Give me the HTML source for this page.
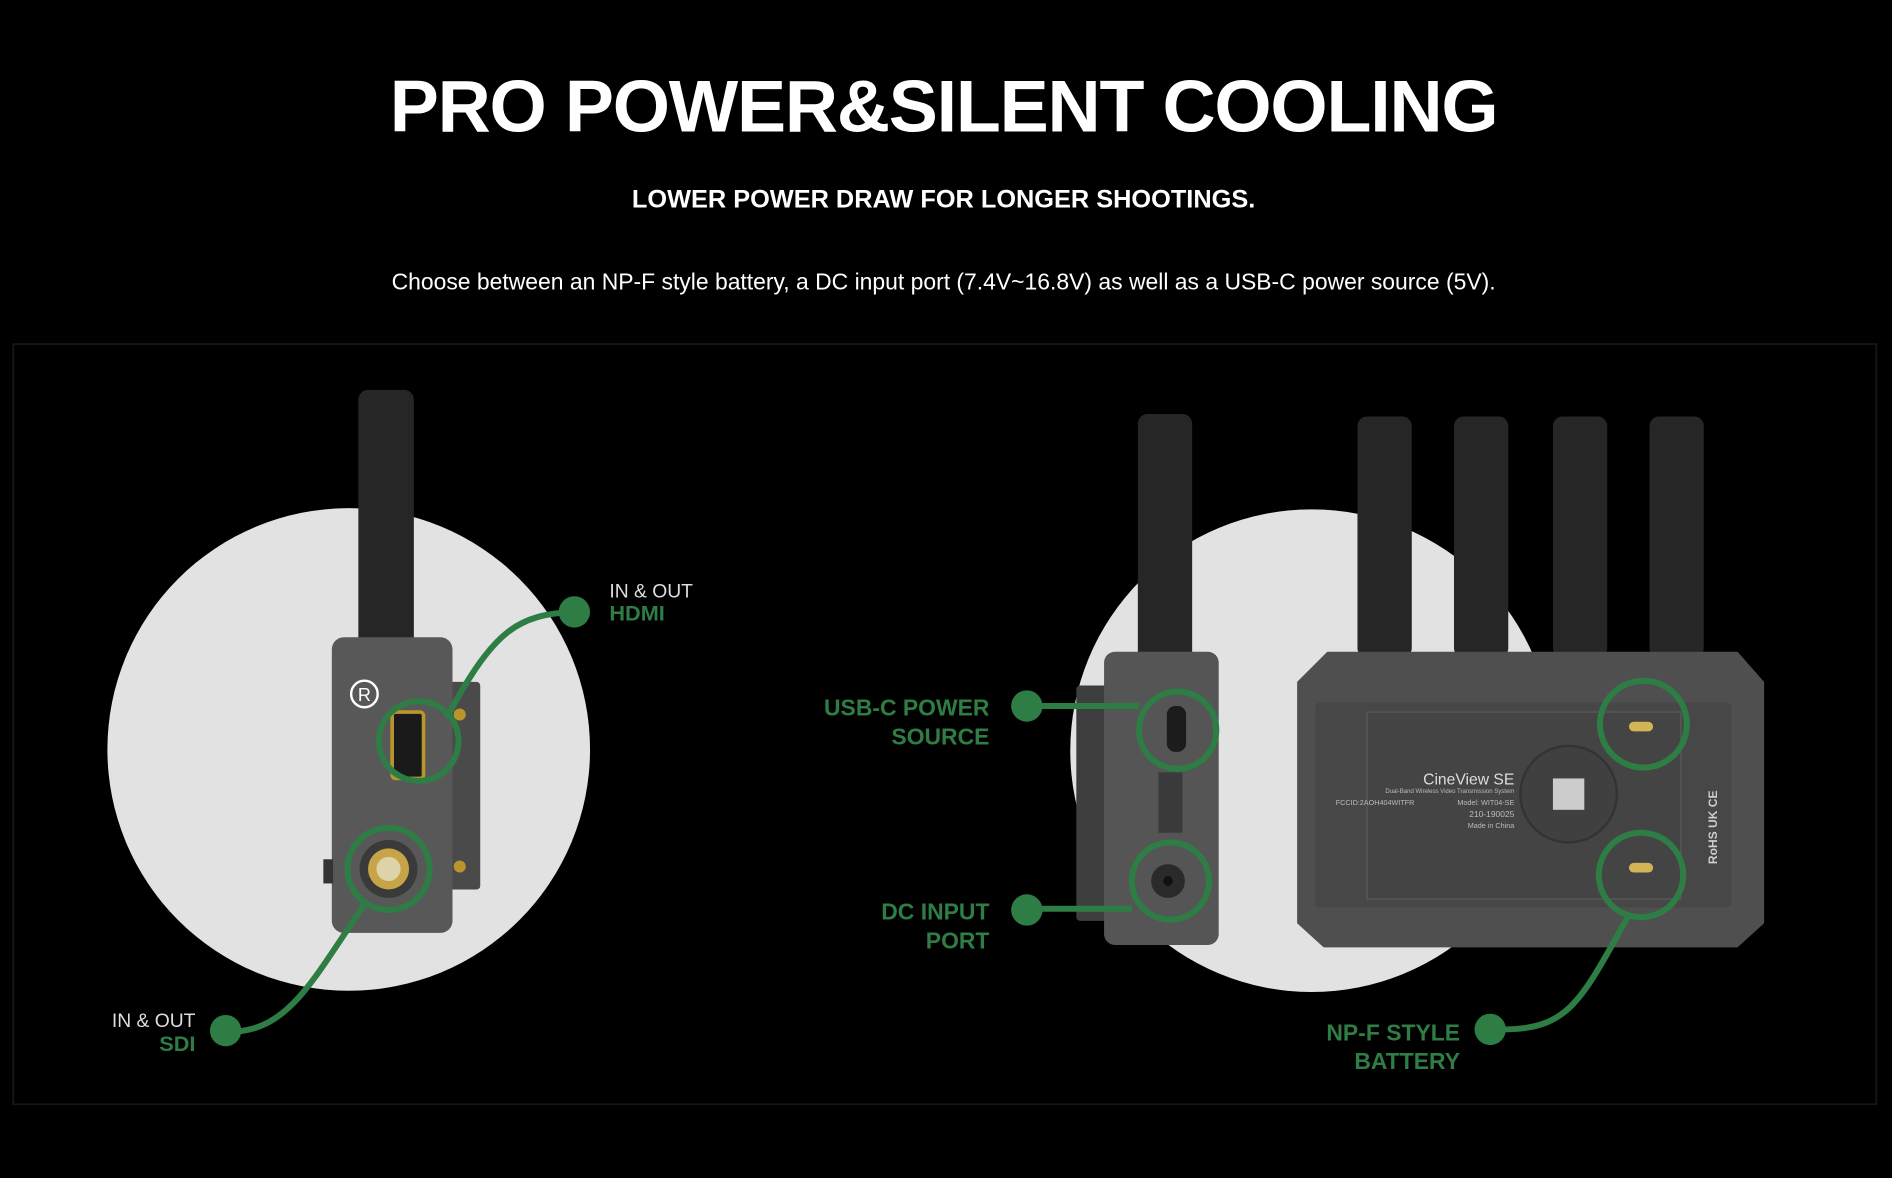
<!DOCTYPE html>
<html><head><meta charset="utf-8"><style>
html,body{margin:0;padding:0;background:#000;width:1892px;height:1178px;overflow:hidden}
svg{display:block}
text{font-family:"Liberation Sans",sans-serif}
</style></head><body>
<svg width="1892" height="1178" viewBox="0 0 1568 976" xmlns="http://www.w3.org/2000/svg">
<rect width="1568" height="976" fill="#000"/>
<text x="782" y="109" text-anchor="middle" fill="#fff" font-size="61" font-weight="bold" letter-spacing="-1">PRO POWER&amp;SILENT COOLING</text>
<text x="782" y="172" text-anchor="middle" fill="#fff" font-size="21" font-weight="bold">LOWER POWER DRAW FOR LONGER SHOOTINGS.</text>
<text x="782" y="240" text-anchor="middle" fill="#fff" font-size="19">Choose between an NP-F style battery, a DC input port (7.4V~16.8V) as well as a USB-C power source (5V).</text>
<rect x="11" y="285" width="1544" height="630" fill="none" stroke="#161616" stroke-width="1.5"/>
<circle cx="289" cy="621" r="200" fill="#e2e2e2"/>
<circle cx="1087" cy="622" r="200" fill="#e2e2e2"/>
<rect x="297" y="323" width="46" height="215" rx="8" fill="#262626"/>
<rect x="370" y="565" width="28" height="172" rx="3" fill="#4a4a4a"/>
<rect x="275" y="528" width="100" height="245" rx="10" fill="#585858"/>
<rect x="268" y="712" width="8" height="20" fill="#333"/>
<circle cx="302" cy="575" r="11" fill="none" stroke="#fff" stroke-width="2"/>
<text x="302" y="581" text-anchor="middle" fill="#fff" font-size="15">R</text>
<rect x="325" y="590" width="26" height="55" rx="3" fill="#1a1a1a" stroke="#b8962c" stroke-width="3"/>
<circle cx="322" cy="720" r="24" fill="#3a3a3a"/>
<circle cx="322" cy="720" r="17" fill="#c7a447"/>
<circle cx="322" cy="720" r="10" fill="#ddd2a8"/>
<circle cx="381" cy="592" r="5" fill="#b8962c"/>
<circle cx="381" cy="718" r="5" fill="#b8962c"/>
<g fill="none" stroke="#2e7d45" stroke-width="5">
<circle cx="347" cy="614" r="33"/>
<circle cx="322" cy="720" r="34"/>
<path d="M370 595 C410 520 430 510 474 507"/>
<path d="M303 748 C260 810 240 855 190 855"/>
</g>
<circle cx="476" cy="507" r="13" fill="#2e7d45"/>
<circle cx="187" cy="854" r="13" fill="#2e7d45"/>
<text x="505" y="495" fill="#ddd" font-size="16">IN &amp; OUT</text>
<text x="505" y="514" fill="#2e7d45" font-size="18" font-weight="bold">HDMI</text>
<text x="162" y="851" text-anchor="end" fill="#ddd" font-size="16">IN &amp; OUT</text>
<text x="162" y="871" text-anchor="end" fill="#2e7d45" font-size="18" font-weight="bold">SDI</text>
<rect x="943" y="343" width="45" height="205" rx="8" fill="#262626"/>
<rect x="892" y="568" width="30" height="195" rx="3" fill="#3e3e3e"/>
<rect x="915" y="540" width="95" height="243" rx="9" fill="#555"/>
<rect x="967" y="585" width="16" height="38" rx="7" fill="#1c1c1c"/>
<rect x="960" y="640" width="20" height="50" fill="#3a3a3a"/>
<circle cx="968" cy="730" r="14" fill="#2a2a2a"/>
<circle cx="968" cy="730" r="4" fill="#111"/>
<rect x="1125" y="345" width="45" height="200" rx="8" fill="#262626"/>
<rect x="1205" y="345" width="45" height="200" rx="8" fill="#262626"/>
<rect x="1287" y="345" width="45" height="200" rx="8" fill="#262626"/>
<rect x="1367" y="345" width="45" height="200" rx="8" fill="#262626"/>
<path d="M1100 540 H1440 L1462 565 V765 L1440 785 H1097 L1075 765 V565 Z" fill="#4f4f4f"/>
<rect x="1090" y="582" width="345" height="170" rx="4" fill="#474747"/>
<rect x="1133" y="590" width="260" height="155" fill="#444" stroke="#5a5a5a"/>
<circle cx="1300" cy="658" r="40" fill="#404040" stroke="#333" stroke-width="2"/>
<rect x="1287" y="645" width="26" height="26" fill="#ccc"/>
<text x="1255" y="650" text-anchor="end" fill="#ddd" font-size="13">CineView SE</text>
<text x="1255" y="657" text-anchor="end" fill="#bbb" font-size="5">Dual-Band Wireless Video Transmission System</text>
<text x="1107" y="667" fill="#bbb" font-size="6">FCCID:2AOH404WITFR</text>
<text x="1255" y="667" text-anchor="end" fill="#bbb" font-size="6">Model: WIT04-SE</text>
<text x="1255" y="677" text-anchor="end" fill="#bbb" font-size="7">210-190025</text>
<text x="1255" y="686" text-anchor="end" fill="#bbb" font-size="6">Made in China</text>
<rect x="1350" y="598" width="20" height="8" rx="4" fill="#d4b555"/>
<rect x="1350" y="715" width="20" height="8" rx="4" fill="#d4b555"/>
<text transform="translate(1423 716) rotate(-90)" fill="#ccc" font-size="10" font-weight="bold">RoHS  UK  CE</text>
<g fill="none" stroke="#2e7d45" stroke-width="5">
<circle cx="976" cy="605" r="32"/>
<circle cx="970" cy="730" r="32"/>
<circle cx="1362" cy="600" r="36"/>
<circle cx="1360" cy="725" r="35"/>
<path d="M862 585 H944"/>
<path d="M862 753 H938"/>
<path d="M1350 758 C1310 830 1300 853 1245 853"/>
</g>
<circle cx="851" cy="585" r="13" fill="#2e7d45"/>
<circle cx="851" cy="754" r="13" fill="#2e7d45"/>
<circle cx="1235" cy="853" r="13" fill="#2e7d45"/>
<g fill="#2e7d45" font-size="19" font-weight="bold" text-anchor="end">
<text x="820" y="593">USB-C POWER</text>
<text x="820" y="617">SOURCE</text>
<text x="820" y="762">DC INPUT</text>
<text x="820" y="786">PORT</text>
<text x="1210" y="862">NP-F STYLE</text>
<text x="1210" y="886">BATTERY</text>
</g>
</svg>
</body></html>
